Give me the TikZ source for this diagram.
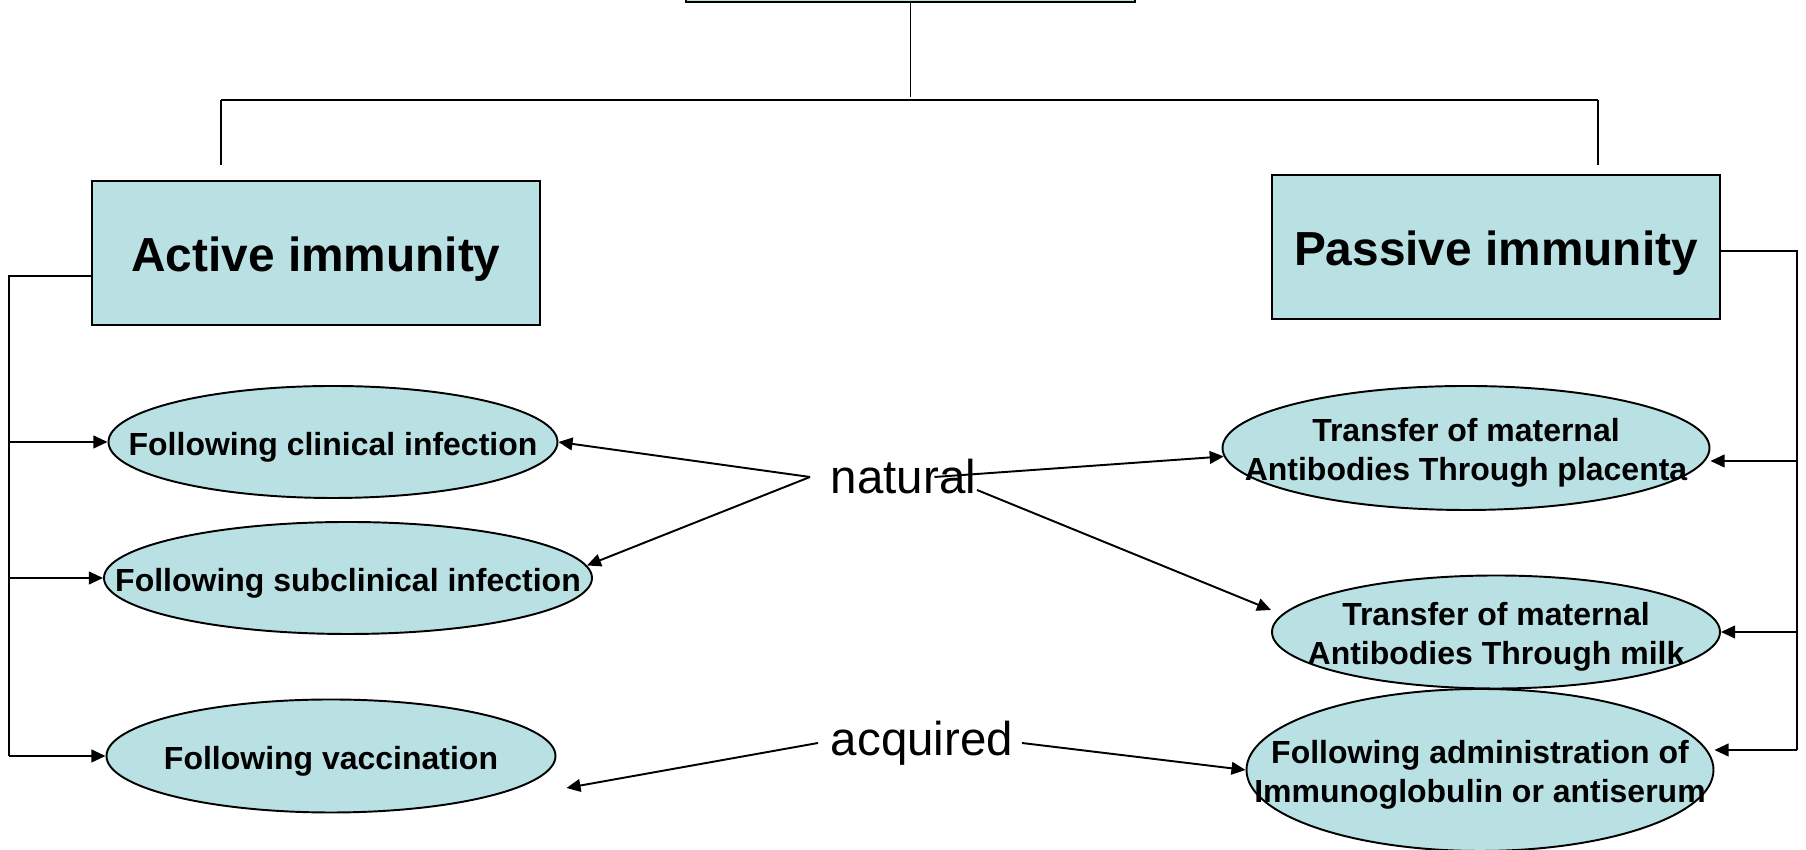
\documentclass[tikz,border=0pt]{standalone}
\usepackage{fontspec}
\setmainfont{Liberation Sans}
\usetikzlibrary{shapes.geometric,arrows.meta}

\definecolor{paleblue}{RGB}{185,224,227}

\begin{document}
\begin{tikzpicture}[line width=0.55pt,
  kind/.style={draw,fill=paleblue,minimum width=4.48cm,minimum height=1.44cm,inner sep=0pt,
    text height=3.8mm,text depth=0pt,font=\fontsize{13.6}{16}\selectfont\bfseries},
  route/.style={ellipse,draw,fill=paleblue,inner sep=0pt},
  caption/.style={align=center,inner sep=0pt,yshift=-0.5mm,
    font=\fontsize{9.1}{11.1}\selectfont\bfseries},
  word/.style={inner sep=0pt,anchor=west,font=\fontsize{13.5}{16}\selectfont},
  arr/.style={-{Triangle[length=4pt,width=3.6pt]}}]
  \clip (0,0) rectangle (18.06,-8.50);

  % tree at the top
  \node[kind,minimum width=4.49cm,minimum height=1.2cm] (root) at (9.105,0.58) {};
  \coordinate (bl) at (2.21,-1.00);
  \coordinate (br) at (15.98,-1.00);
  \draw (root.south) -- ++(0,-0.94);
  \draw (bl) -- (br);
  \draw (bl) -- ++(0,-0.65);
  \draw (br) -- ++(0,-0.65);

  \node[kind] (act) at (3.16,-2.53) {Active immunity};
  \node[kind] (pas) at (14.96,-2.47) {Passive immunity};

  % the six ways
  \node[route,minimum width=4.49cm,minimum height=1.12cm,
    label={[caption]center:Following clinical infection}] (e1) at (3.33,-4.42) {};
  \node[route,minimum width=4.88cm,minimum height=1.12cm,
    label={[caption]center:Following subclinical infection}] (e2) at (3.48,-5.78) {};
  \node[route,minimum width=4.49cm,minimum height=1.13cm,
    label={[caption]center:Following vaccination}] (e3) at (3.31,-7.56) {};
  \node[route,minimum width=4.87cm,minimum height=1.24cm,
    label={[caption]center:Transfer of maternal\\Antibodies Through placenta}] (e4) at (14.66,-4.48) {};
  \node[route,minimum width=4.48cm,minimum height=1.13cm,
    label={[caption]center:Transfer of maternal\\Antibodies Through milk}] (e5) at (14.96,-6.32) {};
  \node[route,minimum width=4.67cm,minimum height=1.62cm,
    label={[caption]center:Following administration of\\Immunoglobulin or antiserum}] (e6) at (14.80,-7.70) {};

  % left bracket
  \coordinate (lt) at (0.09,-2.76);
  \draw (lt -| act.west) -- (lt) -- (lt |- e3.west);
  \foreach \e in {e1,e2,e3}
    \draw[arr] (lt |- \e.west) -- (\e.west);

  % right bracket
  \coordinate (rt) at (17.97,-2.51);
  \coordinate (rb) at (17.97,-7.50);
  \draw (rt -| pas.east) -- (rt) -- (rb);
  \draw[arr] ([yshift=-1.3mm]rt |- e4.east) -- ([yshift=-1.3mm]e4.east);
  \draw[arr] (rt |- e5.east) -- (e5.east);
  \draw[arr] (rb) -- ([yshift=2mm]e6.east);

  % natural and acquired
  \node[word] (nat) at (8.30,-4.77) {natural};
  \node[word] (acq) at (8.30,-7.43) {acquired};
  \draw[arr] ([xshift=-2mm]nat.west) -- (e1.east);
  \draw[arr] ([xshift=-2mm]nat.west) -- (e2.3);
  \draw[arr] ([xshift=3.1mm]nat.center) -- (e4.182);
  \draw[arr] ([yshift=-1.3mm]nat.east) -- ([yshift=2.2mm]e5.west);
  \draw[arr] ([xshift=-1.2mm]acq.west) -- ([shift={(1mm,-3.2mm)}]e3.east);
  \draw[arr] ([xshift=0.8mm]acq.east) -- (e6.west);
\end{tikzpicture}
\end{document}
